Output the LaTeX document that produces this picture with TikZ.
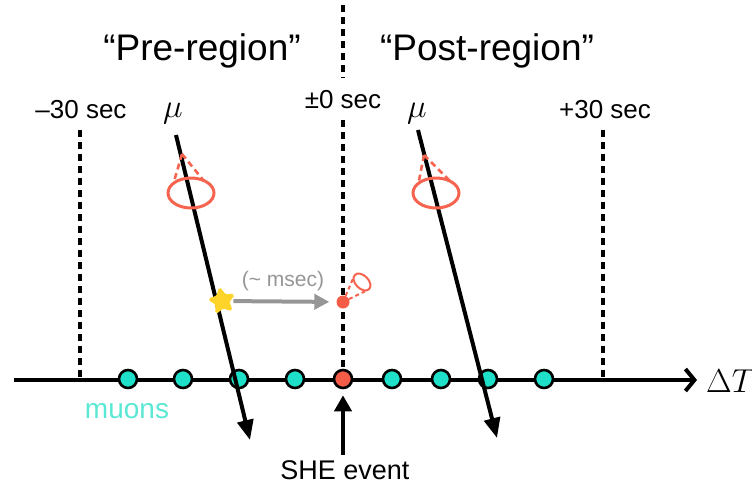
\documentclass[tikz,border=0pt]{standalone}
\usepackage{fontspec}
\usepackage{graphicx}
\setmainfont{Liberation Sans}
\usetikzlibrary{arrows.meta,shapes.geometric}

\definecolor{muteal}{RGB}{30,224,200}
\definecolor{mutealtext}{RGB}{90,232,212}
\definecolor{shered}{RGB}{244,92,72}
\definecolor{conered}{RGB}{246,100,80}
\definecolor{flashyellow}{RGB}{255,212,42}
\definecolor{delaygray}{RGB}{150,150,150}

% large math symbols: set at 20pt, then enlarged
\newcommand{\bigmath}[2]{\scalebox{#1}{\fontsize{20}{22}\selectfont$#2$}}

\tikzset{
  timeaxis/.style={line width=4pt, -{Straight Barb[length=9pt,width=22pt,line width=4pt]}},
  boundary/.style={line width=4pt, dash pattern=on 7pt off 5pt},
  track/.style={line width=4pt, -{Triangle[length=20pt,width=16pt]}},
  muondot/.style={circle, draw=black, line width=2.6pt, fill=muteal, minimum size=18pt, inner sep=0pt},
  shedot/.style={circle, draw=black, line width=2.6pt, fill=shered, minimum size=18pt, inner sep=0pt},
  ring/.style={ellipse, draw=conered, line width=3pt, inner sep=0pt, outer sep=0pt},
  conerim/.style={draw=conered, line width=2.6pt, dash pattern=on 6pt off 4pt},
  title/.style={font=\fontsize{37}{40}\selectfont, anchor=base},
  ticklabel/.style={font=\fontsize{26}{28}\selectfont, anchor=base},
}

\begin{document}
\begin{tikzpicture}[x=1pt,y=-1pt]
\useasboundingbox (0,0) rectangle (752,490);

% region titles
\node[title] (pre)  at (202,60) {“Pre-region”};
\node[title] (post) at (487,60) {“Post-region”};

% time stamps
\node[ticklabel] (tminus) at (81,118)  {–30 sec};
\node[ticklabel] (tzero)  at (343,108) {±0 sec};
\node[ticklabel] (tplus)  at (605,118) {+30 sec};

% boundaries of the time windows
\coordinate (bLtop) at (80,130);  \coordinate (bLbot) at (80,380);
\coordinate (bRtop) at (603,130); \coordinate (bRbot) at (603,380);
\coordinate (b0top) at (343,5);   \coordinate (b0mid) at (343,78);
\coordinate (b0low) at (343,120); \coordinate (b0bot) at (343,380);
\draw[boundary] (bLtop) -- (bLbot);
\draw[boundary] (bRtop) -- (bRbot);
\draw[boundary] (b0top) -- (b0mid);
\draw[boundary] (b0low) -- (b0bot);

% time axis
\coordinate (axL) at (14,380);
\coordinate (axR) at (697,380);
\draw[timeaxis] (axL) -- (axR);
\node[anchor=west, inner sep=0pt] (dT) at (706,381) {\bigmath{1.6}{\Delta T}};

% muons along the axis
\foreach \x [count=\i] in {128,183,239,295,392,441,488,544}
  \node[muondot] (m\i) at (\x,379) {};
\node[shedot] (she) at (343,379) {};
\node[font=\fontsize{28}{30}\selectfont, text=mutealtext, anchor=base] (muons) at (127,418) {muons};

% SHE event marker
\coordinate (sheFoot) at (343,455);
\draw[line width=4pt, -{Triangle[length=16pt,width=17pt]}, shorten >=6pt] (sheFoot) -- (she);
\node[font=\fontsize{27}{29}\selectfont, anchor=base] (shelabel) at (345,479) {SHE event};

% muon tracks
\coordinate (trLtop) at (176,135); \coordinate (trLend) at (250,440);
\coordinate (trRtop) at (418,130); \coordinate (trRend) at (497,438);
\draw[track] (trLtop) -- (trLend);
\draw[track] (trRtop) -- (trRend);
\node[anchor=base] (muL) at (173,117) {\bigmath{1.6}{\mu}};
\node[anchor=base] (muR) at (417,117) {\bigmath{1.6}{\mu}};

% Cherenkov cones on the tracks
\node[ring, minimum width=46pt, minimum height=30pt] (ringL) at (191,193) {};
\coordinate (apexL) at (182,154);
\draw[conerim] (apexL) -- (ringL.151);
\draw[conerim] (apexL) -- (ringL.45);
\node[ring, minimum width=46pt, minimum height=30pt] (ringR) at (436,193) {};
\coordinate (apexR) at (424,155);
\draw[conerim] (apexR) -- (ringR.151);
\draw[conerim] (apexR) -- (ringR.40);

% spallation flash and delayed SHE
\node[star, star points=5, star point ratio=2.0, fill=flashyellow, draw=flashyellow, line width=2pt, rounded corners=1.5pt, minimum size=26pt, inner sep=0pt, rotate=10] (flash) at (222,301) {};
\node[circle, fill=shered, minimum size=13pt, inner sep=0pt] (dot) at (343,302) {};
\draw[line width=4pt, draw=delaygray, -{Triangle[length=15pt,width=15pt]}, shorten <=3pt, shorten >=7pt] (flash) -- (dot);
\node[font=\fontsize{21}{23}\selectfont, text=delaygray] (delay) at (283,281) {(\textasciitilde\ msec)};
\node[ellipse, draw=conered, line width=2pt, minimum width=20pt, minimum height=13pt, inner sep=0pt, outer sep=0pt, rotate=-45] (ringS) at (362,282) {};
\draw[draw=conered, line width=2pt, dash pattern=on 4pt off 3pt] (dot) -- (ringS.191);
\draw[draw=conered, line width=2pt, dash pattern=on 4pt off 3pt] (dot) -- (ringS.349);
\end{tikzpicture}
\end{document}
